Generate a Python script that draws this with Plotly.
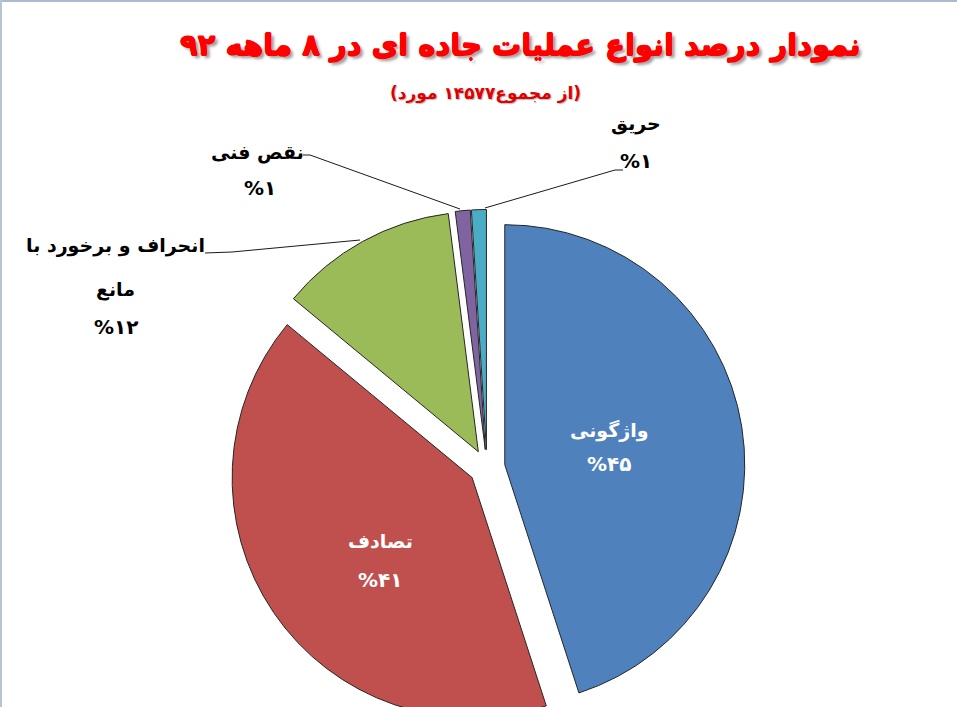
import plotly.graph_objects as go

# ---- data ----
categories = ["واژگونی", "تصادف", "انحراف و برخورد با<br>مانع", "نقص فنی", "حریق"]
percent_values = [45, 41, 12, 1, 1]
slice_colors = ["#4F81BD", "#C0504D", "#9BBB59", "#8064A2", "#4BACC6"]
title_text = "نمودار درصد انواع عملیات جاده ای در ۸ ماهه ۹۲"
subtitle_text = "(از مجموع۱۴۵۷۷ مورد)"

W, H = 957, 726
PULL = 0.075


def fa_digits(n):
    return str(n).translate(str.maketrans("0123456789", "۰۱۲۳۴۵۶۷۸۹"))


def px(x):
    return x / W


def py(y):
    return 1 - y / H


def thick(color, d, extra=""):
    s = f"{d}px 0 0 {color}, -{d}px 0 0 {color}, 0 {d}px 0 {color}, 0 -{d}px 0 {color}"
    return s + (", " + extra if extra else "")


fig = go.Figure()
fig.add_trace(go.Pie(
    labels=categories,
    values=percent_values,
    sort=False,
    direction="clockwise",
    rotation=0,
    pull=[PULL] * len(percent_values),
    marker=dict(colors=slice_colors, line=dict(color="#262626", width=1)),
    textinfo="none",
    hovertemplate="%{label}: %{value}%<extra></extra>",
    domain=dict(x=[px(229), px(745)], y=[py(725.5), py(209.5)]),
    showlegend=False,
))

# label placement (layout only)
label_pos = [
    # (name x, name y, pct x, pct y, color)
    (609, 430, 609, 464, "white"),
    (380, 541, 380, 580, "white"),
    (115, 245, 116, 327, "black"),
    (257, 153, 260, 188, "black"),
    (636, 123, 636, 161, "black"),
]
annotations = []
for i, (nx, ny, qx, qy, col) in enumerate(label_pos):
    fnt = dict(family="DejaVu Sans", size=19, color=col, weight="bold")
    pfnt = dict(family="DejaVu Sans", size=20, color=col, weight="bold")
    name = categories[i]
    if "<br>" in name:
        parts = name.split("<br>")
        annotations.append(dict(x=px(nx), y=py(ny), text=parts[0], font=fnt))
        annotations.append(dict(x=px(nx), y=py(290), text=parts[1], font=fnt))
    else:
        annotations.append(dict(x=px(nx), y=py(ny), text=name, font=fnt))
    annotations.append(dict(x=px(qx), y=py(qy), text="%" + fa_digits(percent_values[i]), font=pfnt))

for a in annotations:
    a.update(xref="paper", yref="paper", showarrow=False, xanchor="center", yanchor="middle")

annotations.append(dict(x=px(520), y=py(45), xref="paper", yref="paper", showarrow=False,
                        xanchor="center", yanchor="middle", text=title_text,
                        font=dict(family="DejaVu Sans", size=29, color="#FF0000", weight="bold",
                                  shadow=thick("#FF0000", 0.6, "3px 3px 3px #9a9a9a"))))
annotations.append(dict(x=px(485), y=py(93), xref="paper", yref="paper", showarrow=False,
                        xanchor="center", yanchor="middle", text=subtitle_text,
                        font=dict(family="DejaVu Sans", size=17, color="#E00000", weight="bold",
                                  shadow="1px 1px 1px #b8b8b8")))

# leader lines
leaders = [
    [(205, 253), (232, 252), (360, 240)],
    [(303, 155), (310, 155), (460, 209)],
    [(485, 208), (615, 170), (623, 170)],
]
shapes = []
for pts in leaders:
    path = "M " + " L ".join(f"{px(x):.5f},{py(y):.5f}" for x, y in pts)
    shapes.append(dict(type="path", xref="paper", yref="paper", path=path,
                       line=dict(color="#1a1a1a", width=1)))
# slide border lines
shapes.append(dict(type="line", xref="paper", yref="paper", x0=0, x1=1, y0=py(1), y1=py(1),
                   line=dict(color="#A9BCD0", width=2)))
shapes.append(dict(type="line", xref="paper", yref="paper", x0=px(1), x1=px(1), y0=0, y1=1,
                   line=dict(color="#B8C4D0", width=2)))

fig.update_layout(
    width=W, height=H,
    margin=dict(l=0, r=0, t=0, b=0),
    paper_bgcolor="white", plot_bgcolor="white",
    annotations=annotations,
    shapes=shapes,
)

fig.write_html("out.html", config={"displayModeBar": False},
               post_script="document.body.style.margin='0';document.body.style.overflow='hidden';")
